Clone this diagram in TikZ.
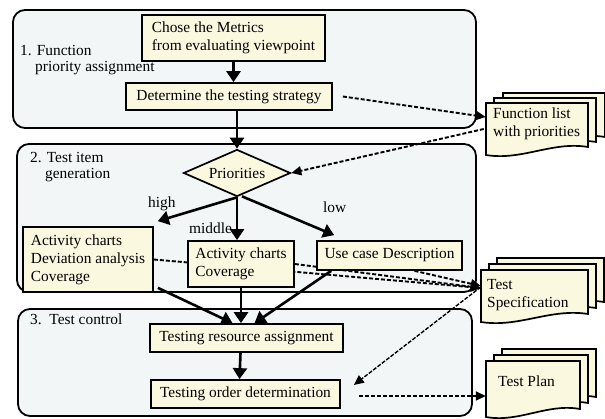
\documentclass[tikz,border=0pt]{standalone}
\usepackage{fontspec}
\setmainfont{Liberation Serif}
\usetikzlibrary{arrows.meta,shapes.geometric,calc}
\definecolor{cream}{RGB}{251,248,224}
\definecolor{panelc}{RGB}{242,246,246}
\pgfdeclarelayer{back}
\pgfdeclarelayer{mid}
\pgfsetlayers{back,mid,main}
\newcommand\docsheet[4]{%
  \draw[doc] (#1,#2) -- ({#1+#3},#2) -- ({#1+#3},{#2+#4-8})
    .. controls ({#1+0.65*#3},{#2+#4-14}) and ({#1+0.35*#3},{#2+#4+6}) .. (#1,{#2+#4}) -- cycle;}
\begin{document}
\begin{tikzpicture}[x=1pt,y=-1pt, font=\fontsize{15.4}{18}\selectfont,
  box/.style={draw, line width=1.7pt, fill=cream, inner sep=0pt, align=left},
  panel/.style={draw, line width=1.8pt, fill=panelc, rounded corners=12pt},
  bigarrow/.style={line width=2.6pt, -{Triangle[length=11pt,width=14pt]}},
  dasharrow/.style={line width=1.9pt, dash pattern=on 4pt off 2pt, -{Triangle[length=10pt,width=9pt]}},
  dashthin/.style={line width=1.4pt, dash pattern=on 4pt off 1.5pt, -{Triangle[length=10pt,width=9pt]}},
  doc/.style={draw, line width=1.7pt, fill=cream},
  lbl/.style={anchor=base west, inner sep=0pt}]
\useasboundingbox (0,0) rectangle (605,419);
\begin{pgfonlayer}{back}
\draw[panel] (13,10) rectangle (476,128);
\draw[panel] (17,144) rectangle (476,292);
\draw[panel] (18,309) rectangle (472,416);
\end{pgfonlayer}

% panel labels
\node[lbl] (p1a) at (20,56) {1. Function};
\node[lbl] (p1b) at (35,72) {priority assignment};
\node[lbl] (p2a) at (30,163) {2. Test item};
\node[lbl] (p2b) at (45,179) {generation};
\node[lbl] (p3) at (30,325) {3.\ \ Test control};

% boxes
\node[box, minimum width=183pt, minimum height=46pt] (chose) at (233.5,38) {Chose the Metrics\\from evaluating viewpoint};
\node[box, minimum width=206pt, minimum height=27pt] (det) at (229,96.5) {Determine the testing strategy};
\node[diamond, draw, line width=1.7pt, fill=cream, aspect=2.28, minimum width=107pt, minimum height=47pt, inner sep=0pt] (prio) at (237,173) {Priorities};
\node[box, minimum width=130pt, minimum height=65pt] (act1) at (88,259.5) {Activity charts\\Deviation analysis\\Coverage};
\node[box, minimum width=106pt, minimum height=46pt] (act2) at (241,264) {Activity charts\\Coverage};
\node[box, minimum width=145pt, minimum height=29pt] (uc) at (389.5,255.5) {Use case Description};
\node[box, minimum width=193pt, minimum height=28pt] (res) at (246.5,338) {Testing resource assignment};
\node[box, minimum width=189pt, minimum height=28pt] (ord) at (245.5,394) {Testing order determination};

% documents
\docsheet{503}{93}{102}{52}
\docsheet{494}{98}{102}{52}
\docsheet{486}{103}{102}{52}
\node[minimum width=102pt, minimum height=52pt, inner sep=0pt] (fl) at (537,129) {};
\node[lbl] (flt1) at (493,119) {Function list};
\node[lbl] (flt2) at (493,137) {with priorities};

\docsheet{497}{258}{107}{52}
\docsheet{489}{264}{107}{52}
\docsheet{481}{270}{107}{52}
\node[minimum width=107pt, minimum height=52pt, inner sep=0pt] (ts) at (534.5,296) {};
\node[lbl] (tst1) at (487,290) {Test};
\node[lbl] (tst2) at (487,308) {Specification};

\docsheet{502}{349}{94}{56}
\docsheet{494}{355}{94}{56}
\docsheet{486}{361}{94}{56}
\node[minimum width=94pt, minimum height=56pt, inner sep=0pt] (tp) at (533,389) {};
\node[lbl] (tpt) at (498,387) {Test Plan};

% branch labels
\node[lbl] (high) at (148,208) {high};
\node[lbl] (middle) at (189,234) {middle};
\node[lbl] (low) at (323,213) {low};

% solid arrows
\draw[bigarrow] (chose.south) -- (chose.south |- det.north);
\draw[bigarrow] (prio.north |- det.south) -- (prio.north);
\draw[bigarrow] (prio.south) -- ([shift={(4,-5)}]act1.north east);
\draw[bigarrow] (prio.south) -- (prio.south |- act2.north);
\draw[bigarrow] ([shift={(5,-1)}]prio.south) -- ([shift={(18,-5)}]uc.north west);
\draw[bigarrow] ([shift={(4,-5)}]act1.south east) -- ([shift={(-14,0)}]res.north);
\draw[bigarrow] (act2.south) -- (act2.south |- res.north);
\draw[bigarrow] ([shift={(15,0)}]uc.south west) -- ([shift={(8,0)}]res.north);
\draw[bigarrow] ([shift={(-6,0)}]res.south) -- ([shift={(-6,0)}]ord.north);

% dashed arrows
\begin{pgfonlayer}{mid}
\draw[dasharrow] ([shift={(10,0)}]det.east) -- ([shift={(0,-12)}]fl.west);
\draw[dasharrow] ([shift={(-2,0)}]fl.west) -- (prio.east);
\draw[dasharrow] (act1.east) -- ([shift={(0,-8)}]ts.west);
\draw[dasharrow] (act2.east) -- ([shift={(0,-8)}]ts.west);
\draw[dasharrow] ([shift={(25,0)}]uc.south) -- ([shift={(0,-10)}]ts.west);
\draw[dashthin] ([shift={(0,-9)}]ts.west) -- ([shift={(13,-9)}]ord.east);
\draw[dasharrow] ([shift={(18,2)}]ord.east) -- ([shift={(0,7)}]tp.west);
\end{pgfonlayer}
\end{tikzpicture}
\end{document}
